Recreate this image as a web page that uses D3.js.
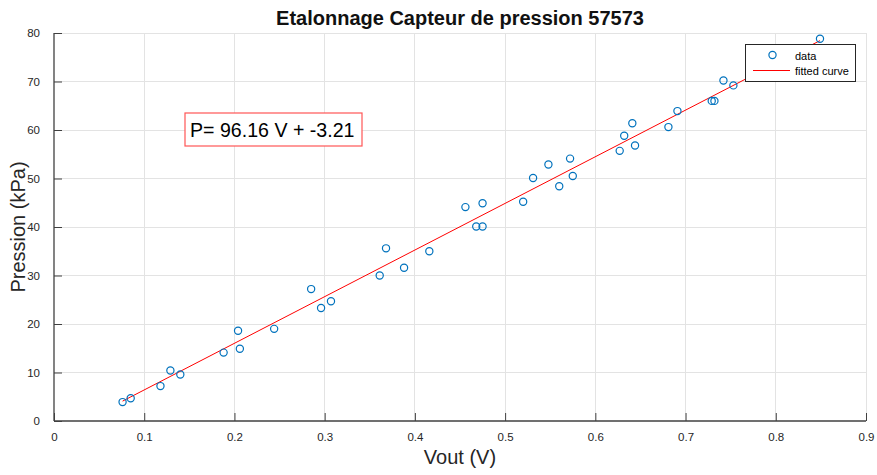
<!DOCTYPE html>
<html>
<head>
<meta charset="utf-8">
<script src="https://cdn.jsdelivr.net/npm/d3@7"></script>
<style>
  html, body { margin: 0; padding: 0; background: #fff; }
  svg { display: block; font-family: "Liberation Sans", Arial, sans-serif; }
</style>
</head>
<body>
<svg id="chart" width="877" height="475"></svg>
<script>
// ---- data ----
const vout = [0.076, 0.085, 0.118, 0.129, 0.140, 0.188, 0.204, 0.206, 0.244, 0.285,
              0.296, 0.307, 0.361, 0.368, 0.388, 0.416, 0.456, 0.468, 0.475, 0.475,
              0.520, 0.531, 0.548, 0.560, 0.572, 0.575, 0.627, 0.632, 0.641, 0.644,
              0.681, 0.691, 0.729, 0.732, 0.742, 0.753, 0.849];
const pression = [3.9, 4.7, 7.2, 10.4, 9.6, 14.1, 18.6, 14.9, 19.0, 27.2,
                  23.3, 24.7, 30.0, 35.6, 31.6, 35.0, 44.1, 40.1, 44.9, 40.1,
                  45.2, 50.1, 52.9, 48.4, 54.1, 50.5, 55.7, 58.8, 61.4, 56.8,
                  60.6, 63.9, 66.0, 66.0, 70.2, 69.2, 78.8];
const fitSlope = 96.16;
const fitIntercept = -3.21;
const xTicks = [0, 0.1, 0.2, 0.3, 0.4, 0.5, 0.6, 0.7, 0.8, 0.9];
const yTicks = [0, 10, 20, 30, 40, 50, 60, 70, 80];
const titleText = "Etalonnage Capteur de pression 57573";
const xLabel = "Vout (V)";
const yLabel = "Pression (kPa)";
const equationText = "P= 96.16 V + -3.21";
const legendLabels = ["data", "fitted curve"];

// ---- layout ----
const W = 877, H = 475;
const m = { left: 54, right: 11, top: 33, bottom: 54 };
const svg = d3.select("#chart");
const x = d3.scaleLinear().domain([0, 0.9]).range([m.left, W - m.right]);
const y = d3.scaleLinear().domain([0, 80]).range([H - m.bottom, m.top]);

const axisColor = "#404040";
const gridColor = "#e3e3e3";
const blue = "#0072BD";
const red = "#FF0000";

// grid
const grid = svg.append("g");
grid.selectAll("line.gx").data(xTicks.filter(d => d > 0)).join("line")
  .attr("x1", d => x(d)).attr("x2", d => x(d))
  .attr("y1", y(0)).attr("y2", y(80))
  .attr("stroke", gridColor).attr("stroke-width", 1).attr("shape-rendering", "crispEdges");
grid.selectAll("line.gy").data(yTicks.filter(d => d > 0)).join("line")
  .attr("x1", x(0)).attr("x2", x(0.9))
  .attr("y1", d => y(d)).attr("y2", d => y(d))
  .attr("stroke", gridColor).attr("stroke-width", 1).attr("shape-rendering", "crispEdges");

// axes
const xAxis = d3.axisBottom(x).tickValues(xTicks).tickSize(-8).tickPadding(12)
  .tickFormat(d => d === 0 ? "0" : d3.format(".1f")(d));
const gx = svg.append("g").attr("transform", `translate(0,${y(0)})`).call(xAxis);
const yAxis = d3.axisLeft(y).tickValues(yTicks).tickSize(-8).tickPadding(14);
const gy = svg.append("g").attr("transform", `translate(${x(0)},0)`).call(yAxis);
[gx, gy].forEach(g => {
  g.select(".domain").attr("stroke", axisColor).attr("stroke-width", 1.3);
  g.selectAll(".tick line").attr("stroke", axisColor).attr("stroke-width", 1);
  g.selectAll(".tick text").attr("fill", "#262626")
    .style("font-family", '"Liberation Sans", Arial, sans-serif').style("font-size", "11.5px");
});
gx.select(".domain").attr("d", `M${x(0)},0H${x(0.9)}`);
gy.select(".domain").attr("d", `M0,${y(0)}V${y(80)}`);

// fitted line
const xMin = d3.min(vout), xMax = d3.max(vout);
svg.append("line")
  .attr("x1", x(xMin)).attr("y1", y(fitSlope * xMin + fitIntercept))
  .attr("x2", x(xMax)).attr("y2", y(fitSlope * xMax + fitIntercept))
  .attr("stroke", red).attr("stroke-width", 1);

// data points
svg.append("g").selectAll("circle").data(vout).join("circle")
  .attr("cx", d => x(d)).attr("cy", (d, i) => y(pression[i]))
  .attr("r", 3.6).attr("fill", "none").attr("stroke", blue).attr("stroke-width", 1.2);

// title
svg.append("text").attr("x", (x(0) + x(0.9)) / 2).attr("y", 25)
  .attr("text-anchor", "middle").attr("font-weight", "bold").attr("font-size", 20)
  .attr("fill", "#111").text(titleText);

// axis labels
svg.append("text").attr("x", (x(0) + x(0.9)) / 2).attr("y", 464)
  .attr("text-anchor", "middle").attr("font-size", 20).attr("fill", "#262626").text(xLabel);
svg.append("text")
  .attr("transform", `translate(25,${(y(0) + y(80)) / 2}) rotate(-90)`)
  .attr("text-anchor", "middle").attr("font-size", 20).attr("fill", "#262626").text(yLabel);

// equation box
const eq = svg.append("g");
eq.append("rect").attr("x", 185).attr("y", 113).attr("width", 177).attr("height", 33)
  .attr("fill", "#fff").attr("stroke", "#ff5555").attr("stroke-width", 1.2);
eq.append("text").attr("x", 190).attr("y", 137).attr("font-size", 19.6)
  .attr("fill", "#000").text(equationText);

// legend
const lg = svg.append("g");
lg.append("rect").attr("x", 745.5).attr("y", 44.5).attr("width", 110).attr("height", 37)
  .attr("fill", "#fff").attr("stroke", "#262626").attr("stroke-width", 1);
lg.append("circle").attr("cx", 772.5).attr("cy", 55).attr("r", 3.6)
  .attr("fill", "none").attr("stroke", blue).attr("stroke-width", 1.2);
lg.append("line").attr("x1", 753).attr("x2", 790).attr("y1", 70.5).attr("y2", 70.5)
  .attr("stroke", red).attr("stroke-width", 1);
lg.selectAll("text").data(legendLabels).join("text")
  .attr("x", 795).attr("y", (d, i) => 59.5 + i * 15)
  .attr("font-size", 11).attr("fill", "#000").text(d => d);
</script>
</body>
</html>
